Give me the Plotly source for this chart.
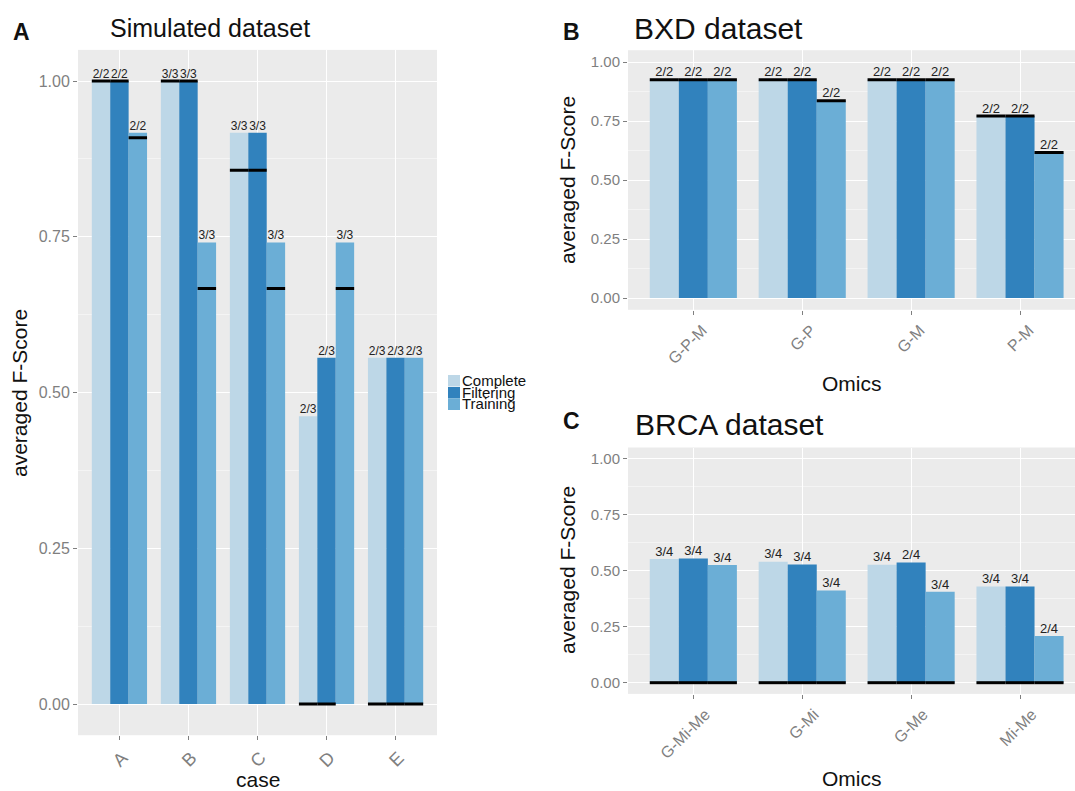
import plotly.graph_objects as go

# ---------------- data ----------------
series = ["Complete", "Filtering", "Training"]

# Panel A: simulated dataset
cases = ["A", "B", "C", "D", "E"]
sim_complete = [1.0, 1.0, 0.917, 0.462, 0.556]
sim_filtering = [1.0, 1.0, 0.917, 0.556, 0.556]
sim_training = [0.917, 0.741, 0.741, 0.741, 0.556]
sim_ref_complete = [1.0, 1.0, 0.857, 0.0, 0.0]
sim_ref_filtering = [1.0, 1.0, 0.857, 0.0, 0.0]
sim_ref_training = [0.909, 0.667, 0.667, 0.667, 0.0]
sim_lab_complete = ["2/2", "3/3", "3/3", "2/3", "2/3"]
sim_lab_filtering = ["2/2", "3/3", "3/3", "2/3", "2/3"]
sim_lab_training = ["2/2", "3/3", "3/3", "3/3", "2/3"]

# Panel B: BXD dataset
bxd_omics = ["G-P-M", "G-P", "G-M", "P-M"]
bxd_complete = [0.925, 0.925, 0.925, 0.771]
bxd_filtering = [0.925, 0.925, 0.925, 0.771]
bxd_training = [0.925, 0.836, 0.925, 0.617]
bxd_ref_complete = [0.925, 0.925, 0.925, 0.771]
bxd_ref_filtering = [0.925, 0.925, 0.925, 0.771]
bxd_ref_training = [0.925, 0.836, 0.925, 0.617]
bxd_lab_complete = ["2/2", "2/2", "2/2", "2/2"]
bxd_lab_filtering = ["2/2", "2/2", "2/2", "2/2"]
bxd_lab_training = ["2/2", "2/2", "2/2", "2/2"]

# Panel C: BRCA dataset
brca_omics = ["G-Mi-Me", "G-Mi", "G-Me", "Mi-Me"]
brca_complete = [0.552, 0.540, 0.527, 0.429]
brca_filtering = [0.554, 0.528, 0.537, 0.429]
brca_training = [0.525, 0.412, 0.406, 0.208]
brca_ref_complete = [0.0, 0.0, 0.0, 0.0]
brca_ref_filtering = [0.0, 0.0, 0.0, 0.0]
brca_ref_training = [0.0, 0.0, 0.0, 0.0]
brca_lab_complete = ["3/4", "3/4", "3/4", "3/4"]
brca_lab_filtering = ["3/4", "3/4", "2/4", "3/4"]
brca_lab_training = ["3/4", "3/4", "3/4", "2/4"]

y_ticks = [0.0, 0.25, 0.5, 0.75, 1.0]

# ---------------- style ----------------
W, H = 1075, 791
FONT = "Liberation Sans, Arial, Helvetica, sans-serif"
colors = ["#BDD7E7", "#3182BD", "#6BAED6"]
BG = "#EBEBEB"
TICKC = "#7F7F7F"


def px(x):
    return x / W


def py(y):
    return 1 - y / H


fig = go.Figure()

panels = [
    dict(cats=cases, vals=[sim_complete, sim_filtering, sim_training],
         refs=[sim_ref_complete, sim_ref_filtering, sim_ref_training],
         labs=[sim_lab_complete, sim_lab_filtering, sim_lab_training],
         xa="x", ya="y", lsize=12),
    dict(cats=bxd_omics, vals=[bxd_complete, bxd_filtering, bxd_training],
         refs=[bxd_ref_complete, bxd_ref_filtering, bxd_ref_training],
         labs=[bxd_lab_complete, bxd_lab_filtering, bxd_lab_training],
         xa="x2", ya="y2", lsize=13),
    dict(cats=brca_omics, vals=[brca_complete, brca_filtering, brca_training],
         refs=[brca_ref_complete, brca_ref_filtering, brca_ref_training],
         labs=[brca_lab_complete, brca_lab_filtering, brca_lab_training],
         xa="x3", ya="y3", lsize=13),
]

bw = 0.8 / 3
offsets = [-bw, 0.0, bw]

for p in panels:
    n = len(p["cats"])
    for i, name in enumerate(series):
        xs = [k + offsets[i] for k in range(n)]
        fig.add_trace(go.Bar(
            x=xs, y=p["vals"][i], width=bw, name=name,
            marker=dict(color=colors[i], line=dict(width=0)),
            xaxis=p["xa"], yaxis=p["ya"], showlegend=False,
        ))
    for i, name in enumerate(series):
        xs = [k + offsets[i] for k in range(n)]
        lx, ly = [], []
        for x, r in zip(xs, p["refs"][i]):
            lx += [x - bw / 2, x + bw / 2, None]
            ly += [r, r, None]
        fig.add_trace(go.Scatter(
            x=lx, y=ly, mode="lines", line=dict(color="black", width=3),
            xaxis=p["xa"], yaxis=p["ya"], showlegend=False, hoverinfo="skip",
        ))
    for i, name in enumerate(series):
        xs = [k + offsets[i] for k in range(n)]
        ys = [max(v, r) for v, r in zip(p["vals"][i], p["refs"][i])]
        fig.add_trace(go.Scatter(
            x=xs, y=ys, mode="text", text=p["labs"][i],
            textposition="top center",
            textfont=dict(size=p["lsize"], color="#222222", family=FONT),
            xaxis=p["xa"], yaxis=p["ya"], showlegend=False, hoverinfo="skip",
        ))


def xaxis_cfg(domain, anchor, cats, rng, size, shift):
    return dict(
        domain=domain, anchor=anchor, range=rng,
        tickmode="array", tickvals=list(range(len(cats))), ticktext=cats,
        tickangle=-45, ticks="outside", ticklen=4, tickcolor=TICKC, tickwidth=1,
        ticklabelshift=shift,
        tickfont=dict(size=size, color=TICKC, family=FONT),
        showgrid=True, gridcolor="white", gridwidth=1.2,
        zeroline=False, showline=False, fixedrange=True,
    )


def yaxis_cfg(domain, anchor, size):
    return dict(
        domain=domain, anchor=anchor, range=[-0.05, 1.05],
        tickmode="array", tickvals=y_ticks,
        ticktext=["%.2f" % v for v in y_ticks],
        ticks="outside", ticklen=4, tickcolor=TICKC, tickwidth=1,
        tickfont=dict(size=size, color=TICKC, family=FONT),
        showgrid=True, gridcolor="white", gridwidth=1.2,
        minor=dict(tickvals=[0.125, 0.375, 0.625, 0.875], showgrid=True,
                   gridcolor="#F4F4F4", gridwidth=0.6, ticks=""),
        zeroline=False, showline=False, fixedrange=True,
    )


fig.update_layout(
    width=W, height=H, margin=dict(l=0, r=0, t=0, b=0),
    paper_bgcolor="white", plot_bgcolor=BG,
    barmode="overlay", showlegend=False,
    font=dict(family=FONT, color="#222222"),
    xaxis=xaxis_cfg([px(78), px(437)], "y", cases, [-0.6, 4.6], 18, 3),
    yaxis=yaxis_cfg([py(735.2), py(49.9)], "x", 16),
    xaxis2=xaxis_cfg([px(628), 1.0], "y2", bxd_omics, [-0.6, 3.505], 16, 9),
    yaxis2=yaxis_cfg([py(309.8), py(50.2)], "x2", 15),
    xaxis3=xaxis_cfg([px(628), 1.0], "y3", brca_omics, [-0.6, 3.505], 16, 12),
    yaxis3=yaxis_cfg([py(693.9), py(447.5)], "x3", 15),
)

annots = [
    # panel letters
    dict(text="<b>A</b>", x=px(21), y=py(32), size=23),
    dict(text="<b>B</b>", x=px(571), y=py(32), size=23),
    dict(text="<b>C</b>", x=px(571), y=py(421), size=23),
    # axis titles
    dict(text="case", x=px(258), y=py(779), size=21),
    dict(text="Omics", x=px(852), y=py(384), size=21),
    dict(text="Omics", x=px(852), y=py(778), size=21),
    dict(text="averaged F-Score", x=px(19), y=py(393), size=21, angle=-90),
    dict(text="averaged F-Score", x=px(567), y=py(180), size=21, angle=-90),
    dict(text="averaged F-Score", x=px(567), y=py(570), size=21, angle=-90),
]
for a in annots:
    fig.add_annotation(
        text=a["text"], x=a["x"], y=a["y"], xref="paper", yref="paper",
        xanchor="center", yanchor="middle", showarrow=False,
        textangle=a.get("angle", 0),
        font=dict(size=a["size"], color="#111111", family=FONT),
    )

titles = [
    ("Simulated dataset", 108, 28, 25),
    ("BXD dataset", 632, 28, 30),
    ("BRCA dataset", 633, 424, 30),
]
for t, x, y, s in titles:
    fig.add_annotation(
        text=t, x=px(x), y=py(y), xref="paper", yref="paper",
        xanchor="left", yanchor="middle", showarrow=False,
        font=dict(size=s, color="#111111", family=FONT),
    )

# legend (drawn manually to mimic the compact ggplot key)
leg_top = [375, 387, 398.5]
leg_text_y = [380.5, 392, 403.5]
for i, name in enumerate(series):
    fig.add_shape(type="rect", xref="paper", yref="paper",
                  x0=px(448), x1=px(460), y0=py(leg_top[i] + 11.5), y1=py(leg_top[i]),
                  fillcolor=colors[i], line=dict(width=0))
    fig.add_annotation(
        text=name, x=px(460), y=py(leg_text_y[i]), xref="paper", yref="paper",
        xanchor="left", yanchor="middle", showarrow=False,
        font=dict(size=15, color="#111111", family=FONT),
    )

fig.write_html("out.html", config={"displayModeBar": False},
               post_script="document.body.style.margin='0';")
